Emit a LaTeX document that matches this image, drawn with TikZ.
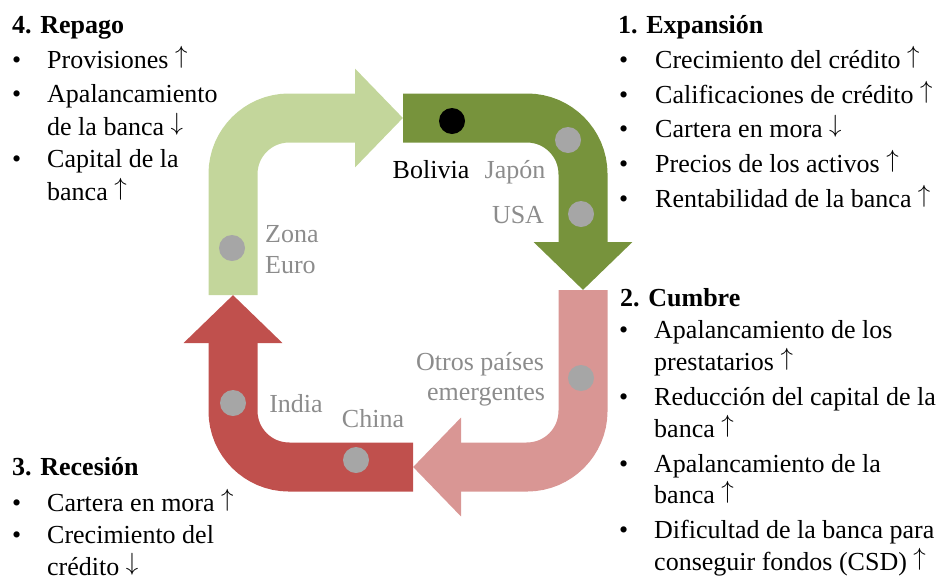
\documentclass[tikz,border=0pt]{standalone}
\usepackage{fontspec}
\setmainfont{Liberation Serif}
\usepackage{tikz}
\usetikzlibrary{arrows.meta}
\definecolor{LGreen}{HTML}{C3D69B}
\definecolor{DGreen}{HTML}{77933C}
\definecolor{LRed}{HTML}{D99694}
\definecolor{DRed}{HTML}{C0504D}
\definecolor{DotGray}{HTML}{A6A6A6}
\definecolor{TxtGray}{HTML}{8C8C8C}
\newcommand\arrup{\raisebox{0.19em}{$\uparrow$}}
\newcommand\arrdn{\raisebox{0.19em}{$\downarrow$}}
\tikzset{
  band/.style = {line width=49pt, rounded corners=56pt, -{Triangle[length=48pt, width=96pt]}},
  txt/.style = {anchor=base west, inner sep=0pt, font=\fontsize{26}{32}\selectfont},
  head/.style = {txt, font=\fontsize{26}{32}\selectfont\bfseries},
  lbl/.style = {anchor=base, inner sep=0pt, text=TxtGray, font=\fontsize{26}{32}\selectfont},
  spot/.style = {circle, fill=DotGray, minimum size=26pt, inner sep=0pt}
}

\begin{document}
\begin{tikzpicture}[x=1pt, y=-1pt]
\useasboundingbox (0,0) rectangle (941,579);

\coordinate (p1) at (403,118);
\coordinate (p2) at (583,290);
\coordinate (p3) at (413,467);
\coordinate (p4) at (233,295);

\draw[band, LGreen] (p4) |- (p1);
\draw[band, DGreen] (p1) -| (p2);
\draw[band, LRed] (p2) |- (p3);
\draw[band, DRed] (p3) -| (p4);

\node[spot, fill=black] (bolivia) at (452,121) {};
\node[spot] (japon) at (568,140) {};
\node[spot] (usa) at (581,214) {};
\node[spot] (euro) at (232,248) {};
\node[spot] (otros) at (581,378) {};
\node[spot] (india) at (233,403) {};
\node[spot] (china) at (356,460) {};

\node[lbl, text=black] (tbolivia) at (431,178) {Bolivia};
\node[lbl] (tjapon) at (515,178) {Japón};
\node[lbl] (tusa) at (518,223) {USA};
\node[lbl, anchor=base west] (tzona) at (265,242) {Zona};
\node[lbl, anchor=base west] (teuro) at (265,273) {Euro};
\node[lbl] (totros) at (480,370) {Otros países};
\node[lbl] (temerg) at (486,400) {emergentes};
\node[lbl] (tindia) at (296,412) {India};
\node[lbl] (tchina) at (373,427) {China};

\node[head] (h1) at (618,33) {1. Expansión};
\foreach \y/\t [count=\i] in {68/Crecimiento del crédito \arrup, 103/Calificaciones de crédito \arrup, 137/Cartera en mora \arrdn, 172/Precios de los activos \arrup, 207/Rentabilidad de la banca \arrup}{
  \node[txt] (e\i b) at (619,\y) {\textbullet};
  \node[txt] (e\i) at (655,\y) {\t};
}

\node[head] (h2) at (620,306) {2. Cumbre};
\foreach \y/\t [count=\i] in {338/Apalancamiento de los, 370/prestatarios \arrup, 405/Reducción del capital de la, 437/banca \arrup, 472/Apalancamiento de la, 503/banca \arrup, 538/Dificultad de la banca para, 570/conseguir fondos (CSD) \arrup}
  \node[txt] (c\i) at (654,\y) {\t};
\foreach \y in {338,405,472,538}
  \node[txt] (c\y b) at (619,\y) {\textbullet};

\node[head] (h3) at (12,475) {3. Recesión};
\foreach \y/\t [count=\i] in {511/Cartera en mora \arrup, 543/Crecimiento del, 575/crédito \arrdn}
  \node[txt] (r\i) at (47,\y) {\t};
\foreach \y in {511,543}
  \node[txt] (r\y b) at (12,\y) {\textbullet};

\node[head] (h4) at (12,33) {4. Repago};
\foreach \y/\t [count=\i] in {68/Provisiones \arrup, 102/Apalancamiento, 135/de la banca \arrdn, 167/Capital de la, 200/banca \arrup}
  \node[txt] (a\i) at (47,\y) {\t};
\foreach \y in {68,102,167}
  \node[txt] (a\y b) at (12,\y) {\textbullet};

\end{tikzpicture}
\end{document}
